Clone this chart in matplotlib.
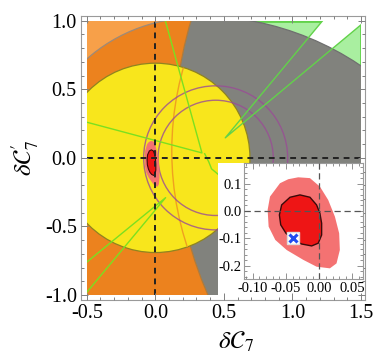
import numpy as np
import matplotlib.pyplot as plt
from matplotlib.patches import Circle, Polygon, Rectangle
from matplotlib.ticker import MultipleLocator, FormatStrFormatter

plt.rcParams['font.family'] = ['Liberation Serif', 'DejaVu Serif']
plt.rcParams['mathtext.fontset'] = 'stix'

# plot range of the constraint plane
x_range = [-0.5, 1.5]
y_range = [-1.0, 1.0]

# constraint discs: (centre x, centre y, radius)
disc_yellow = (0.0, 0.0, 0.69)
disc_orange = (0.289, -0.168, 1.188)
disc_c1 = (3.07, 0.17, 2.93)
disc_gray = (0.316, -1.076, 2.11)
arc_orange = (2.34, 0.05, 2.22)
purple_centre = (0.44, 0.0)
purple_radii = [0.42, 0.525]

# green wedge (upper right): apex and the two points where its rays leave the frame
wedge_apex = (0.51, 0.146)
wedge_rays = [(1.22, 1.0), (1.5, 0.97)]

# other green outlines
green_b_x = [-0.5, 0.34, 0.073]
green_b_y = [0.26, 0.036, 1.0]
green_2_x = [0.36, 0.39, 0.41, 0.47]
green_2_y = [0.03, -0.03, -0.08, -0.13]
green_c_x = [-0.5, 0.075, -0.5]
green_c_y = [-0.76, -0.29, -0.98]

# fit regions (1 and 2 sigma)
light_x = [-0.0466, -0.0591, -0.0741, -0.0777, -0.0762, -0.0662, -0.049, -0.024,
           -0.004, 0.016, 0.026, 0.031, 0.030, 0.0236, 0.0135, 0.001, -0.014, -0.0316]
light_y = [0.116, 0.1013, 0.0525, 0.0037, -0.0574, -0.106, -0.143, -0.179,
           -0.204, -0.21, -0.192, -0.143, -0.082, -0.021, 0.040, 0.089, 0.12, 0.123]
dark_x = [-0.029, -0.044, -0.0566, -0.060, -0.058, -0.050, -0.039, -0.0265,
          -0.0114, -0.0015, 0.0036, 0.0036, 0.001, -0.004, -0.014]
dark_y = [0.0586, 0.050, 0.022, -0.0147, -0.051, -0.082, -0.106, -0.121,
          -0.128, -0.118, -0.088, -0.045, -0.0086, 0.022, 0.050]
sm_point = (-0.04, -0.1)

c_lightorange = '#F7A049'
c_orange = '#EC821E'
c_gray = '#81827D'
c_yellow = '#F8E61C'
c_lightgreen = '#A9EFA0'
c_green = '#62D24A'
c_purple = '#9A4C96'

fig = plt.figure(figsize=(3.82, 3.64), dpi=100)
ax = fig.add_axes([81 / 382, 64 / 364, 284 / 382, 284 / 364])
ax.set_xlim(-0.542, 1.529)
ax.set_ylim(-1.036, 1.034)
ax.set_axisbelow(False)

# drawing area covering exactly the plot range
inner = ax.inset_axes([x_range[0], y_range[0], x_range[1] - x_range[0], y_range[1] - y_range[0]],
                      transform=ax.transData)
inner.set_xlim(x_range)
inner.set_ylim(y_range)
inner.axis('off')
inner.set_zorder(0.5)
T = inner.transData

inner.add_patch(Rectangle((x_range[0], y_range[0]), x_range[1] - x_range[0], y_range[1] - y_range[0],
                          fc=c_lightorange, ec='none', zorder=1))
inner.add_patch(Circle(disc_orange[:2], disc_orange[2], fc=c_orange, ec='#9c8a7a', lw=0.9, zorder=2))

clip_c1 = Circle(disc_c1[:2], disc_c1[2], transform=T)
p = inner.add_patch(Rectangle((x_range[0], y_range[0]), x_range[1] - x_range[0],
                              y_range[1] - y_range[0], fc=c_lightgreen, ec=c_green, lw=2, zorder=3))
p.set_clip_path(clip_c1)
apex = np.array(wedge_apex)
far = [apex + 3 * (np.array(r) - apex) for r in wedge_rays]
p = inner.add_patch(Polygon([far[0], apex, far[1]], closed=True, fc='white', ec='none', zorder=4))
p.set_clip_path(clip_c1)
p = inner.add_patch(Circle(disc_gray[:2], disc_gray[2], fc=c_gray, ec='#6f6f6f', lw=0.9, zorder=5))
p.set_clip_path(clip_c1)
clip_gray = Circle(disc_gray[:2], disc_gray[2], transform=T)
p = inner.add_patch(Circle(disc_c1[:2], disc_c1[2], fc='none', ec='#b07a3a', lw=0.9, zorder=6))
p.set_clip_path(clip_gray)

inner.add_patch(Circle(disc_yellow[:2], disc_yellow[2], fc=c_yellow, ec='#8f8420', lw=0.9, zorder=7))
clip_yellow = Circle(disc_yellow[:2], disc_yellow[2], transform=T)
p = inner.add_patch(Circle(arc_orange[:2], arc_orange[2], fc='none', ec='#F0A020', lw=1.0, zorder=8))
p.set_clip_path(clip_yellow)

for r in purple_radii:
    inner.add_patch(Circle(purple_centre, r, fc='none', ec=c_purple, lw=1.0, alpha=0.8, zorder=9))

inner.plot([far[0][0], apex[0], far[1][0]], [far[0][1], apex[1], far[1][1]],
           color=c_green, lw=1.0, zorder=10)
inner.plot(green_b_x, green_b_y, color='#7BE020', lw=1.0, zorder=10)
inner.plot(green_2_x, green_2_y, color='#7BE020', lw=1.0, zorder=10)
inner.plot(green_c_x, green_c_y, color='#7BE020', lw=1.0, zorder=10)

inner.add_patch(Polygon(np.column_stack([light_x, light_y]), fc='#F47272', ec='none', zorder=11))
inner.add_patch(Polygon(np.column_stack([dark_x, dark_y]), fc='#EE1515', ec='#3a0a0a', lw=0.8, zorder=11))

inner.axvline(0, color='#222222', lw=1.4, ls=(0, (3, 2.5)), zorder=12)
inner.axhline(0, color='#222222', lw=1.4, ls=(0, (3, 2.5)), zorder=12)

# white backing for the zoom panel
inner.add_patch(Rectangle((0.458, y_range[0]), x_range[1] - 0.458, -0.036 - y_range[0],
                          fc='white', ec='none', zorder=13))

# main frame styling
for s in ax.spines.values():
    s.set_color('#9a9a9a')
ax.xaxis.set_major_locator(MultipleLocator(0.5))
ax.xaxis.set_minor_locator(MultipleLocator(0.1))
ax.yaxis.set_major_locator(MultipleLocator(0.5))
ax.yaxis.set_minor_locator(MultipleLocator(0.1))
ax.xaxis.set_major_formatter(FormatStrFormatter('%.1f'))
ax.yaxis.set_major_formatter(FormatStrFormatter('%.1f'))
ax.tick_params(which='both', direction='in', top=True, right=True, color='#808080',
               labelsize=14.5, width=0.7)
ax.tick_params(which='major', length=5, pad=3)
ax.tick_params(which='minor', length=2.5)
ax.set_xlabel(r'$\delta\mathcal{C}_7$', fontsize=18)
ax.set_ylabel(r'$\delta\mathcal{C}^{\prime}_7$', fontsize=18)
ax.xaxis.set_label_coords((236 - 81) / 284, -0.105)
ax.yaxis.set_label_coords((41 - 81) / 284, 0.5)

# zoom panel
pan = ax.inset_axes([0.648, -0.883, 0.867, 0.847], transform=ax.transData)
pan.set_zorder(3)
pan.set_xlim(-0.113, 0.066)
pan.set_ylim(-0.249, 0.176)
pan.add_patch(Polygon(np.column_stack([light_x, light_y]), fc='#F47272', ec='none', zorder=1))
pan.add_patch(Polygon(np.column_stack([dark_x, dark_y]), fc='#EE1515', ec='#3a0a0a', lw=1.0, zorder=2))
pan.axvline(0, color='#555555', lw=0.9, ls=(0, (5, 3)), zorder=3)
pan.axhline(0, color='#555555', lw=0.9, ls=(0, (5, 3)), zorder=3)
pan.plot(*sm_point, marker='s', ms=9, mfc='white', mec='#dddddd', zorder=4)
pan.plot(*sm_point, marker='x', ms=6, mew=2.2, color='#1f4cf0', zorder=5)
for s in pan.spines.values():
    s.set_color('#9a9a9a')
pan.xaxis.set_major_locator(MultipleLocator(0.05))
pan.xaxis.set_minor_locator(MultipleLocator(0.01))
pan.yaxis.set_major_locator(MultipleLocator(0.1))
pan.yaxis.set_minor_locator(MultipleLocator(0.02))
pan.xaxis.set_major_formatter(FormatStrFormatter('%.2f'))
pan.yaxis.set_major_formatter(FormatStrFormatter('%.1f'))
pan.tick_params(which='both', direction='in', top=True, right=True, color='#808080',
                labelsize=10.5, width=0.6, pad=2)
pan.tick_params(which='major', length=4)
pan.tick_params(which='minor', length=2)

fig.savefig('out.png', dpi=100)
